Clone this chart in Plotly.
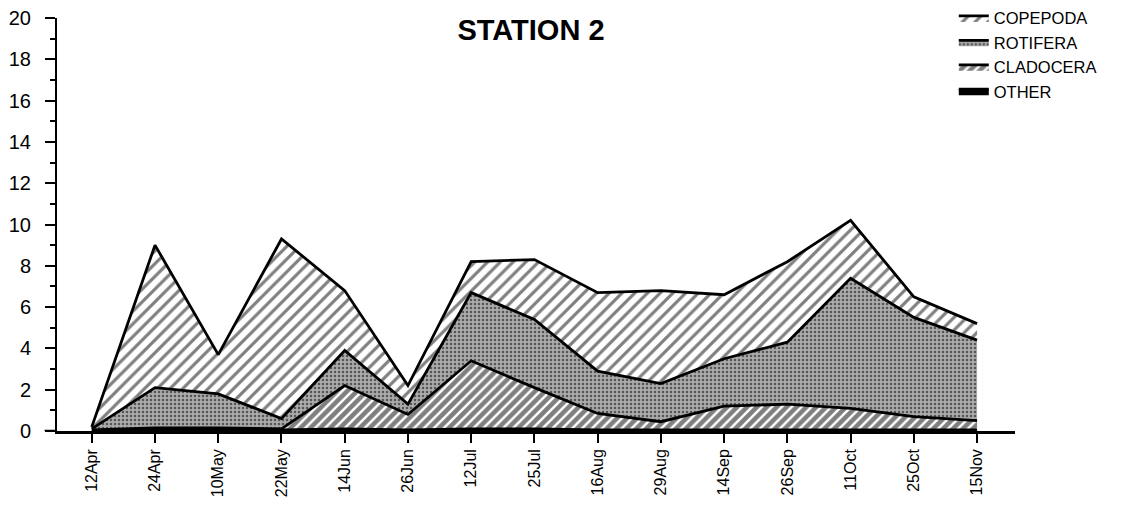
import plotly.graph_objects as go

dates = ["12Apr", "24Apr", "10May", "22May", "14Jun", "26Jun", "12Jul", "25Jul",
         "16Aug", "29Aug", "14Sep", "26Sep", "11Oct", "25Oct", "15Nov"]
other = [0.0, 0.05, 0.05, 0.05, 0.1, 0.05, 0.1, 0.1, 0.05, 0.05, 0.05, 0.05, 0.05, 0.05, 0.05]
cladocera = [0.05, 0.1, 0.1, 0.05, 2.1, 0.75, 3.3, 2.0, 0.8, 0.4, 1.15, 1.25, 1.05, 0.65, 0.45]
rotifera = [0.05, 1.95, 1.65, 0.5, 1.7, 0.5, 3.3, 3.3, 2.05, 1.85, 2.3, 3.0, 6.3, 4.8, 3.9]
copepoda = [0.1, 6.9, 1.9, 8.7, 2.9, 0.9, 1.5, 2.9, 3.8, 4.5, 3.1, 3.9, 2.8, 1.0, 0.8]
y_ticks = [0, 2, 4, 6, 8, 10, 12, 14, 16, 18, 20]

FONT = "Liberation Sans, Arial, sans-serif"
LINE = dict(color="black", width=2.8)

fig = go.Figure()
fig.add_trace(go.Scatter(
    x=dates, y=other, name="OTHER", stackgroup="s", mode="lines",
    line=LINE, fillcolor="black"))
fig.add_trace(go.Scatter(
    x=dates, y=cladocera, name="CLADOCERA", stackgroup="s", mode="lines",
    line=LINE, fillcolor="white",
    fillpattern=dict(shape="/", size=7, solidity=0.65, fgcolor="black", bgcolor="white")))
fig.add_trace(go.Scatter(
    x=dates, y=rotifera, name="ROTIFERA", stackgroup="s", mode="lines",
    line=LINE, fillcolor="white",
    fillpattern=dict(shape=".", size=4, solidity=0.3, fgcolor="black", bgcolor="#ababab")))
fig.add_trace(go.Scatter(
    x=dates, y=copepoda, name="COPEPODA", stackgroup="s", mode="lines",
    line=LINE, fillcolor="white",
    fillpattern=dict(shape="/", size=9, solidity=0.35, fgcolor="black", bgcolor="white")))

# the page body has an 8px default margin, so the figure is offset by 8px
fig.update_layout(
    width=1132, height=515,
    margin=dict(l=49, r=125, t=10, b=92, autoexpand=False),
    paper_bgcolor="white", plot_bgcolor="white",
    font=dict(family=FONT, color="black"),
    title=dict(text="<b>STATION 2</b>", x=0.462, xref="container", xanchor="center",
               y=0.957, yref="container", yanchor="middle",
               font=dict(size=29, family=FONT, color="black")),
    legend=dict(traceorder="reversed", xref="container", yref="paper",
                x=0.8355, y=1.042, xanchor="left", yanchor="top",
                font=dict(size=16.5, family=FONT), itemwidth=30,
                bgcolor="rgba(0,0,0,0)", tracegroupgap=0),
    showlegend=True,
)
fig.update_xaxes(
    type="category", range=[-0.55, 14.6], automargin=False,
    showline=True, linecolor="black", linewidth=2.5,
    ticks="outside", ticklen=9, tickwidth=1.5, tickcolor="black",
    tickangle=-90, tickfont=dict(size=16, family=FONT),
    showgrid=False, zeroline=False)
fig.update_yaxes(
    range=[0, 20], tickvals=y_ticks, automargin=False,
    showline=True, linecolor="black", linewidth=2,
    ticks="outside", ticklen=10, tickwidth=2, tickcolor="black",
    ticklabelstandoff=10, ticklabeloverflow="allow",
    minor=dict(dtick=1, ticks="outside", ticklen=5, tickwidth=1.5, tickcolor="black"),
    tickfont=dict(size=20, family=FONT),
    showgrid=False, zeroline=False)

# axis extension left of y axis (as in reference)
fig.add_shape(type="line", xref="paper", yref="y", x0=-0.013, x1=0, y0=0, y1=0,
              line=dict(color="black", width=2.5))

fig.write_html("out.html")
